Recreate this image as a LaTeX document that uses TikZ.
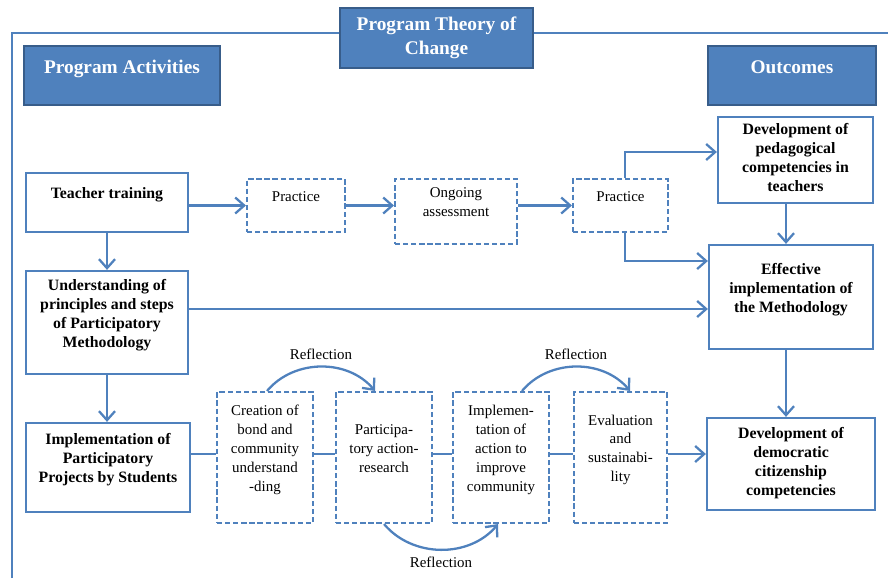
\documentclass[tikz,border=0pt]{standalone}
\usepackage{fontspec}
\setmainfont{Liberation Serif}
\usetikzlibrary{arrows.meta}
\definecolor{tocblue}{HTML}{4F81BD}
\definecolor{tocdark}{HTML}{385D8A}

\begin{document}
\begin{tikzpicture}[x=0.02cm,y=-0.02cm,
  head/.style={draw=tocdark,line width=1pt,fill=tocblue,text=white,align=center,font=\fontsize{11}{14}\selectfont\bfseries},
  box/.style={draw=tocblue,line width=1.3pt,fill=white,align=center,text depth=10.5pt,font=\fontsize{9}{10.8}\selectfont\bfseries},
  dbox/.style={box,line width=1.2pt,dash pattern=on 3pt off 1.6pt,font=\fontsize{8.5}{10.8}\selectfont},
  link/.style={draw=tocblue,line width=1.3pt},
  arr/.style={link,-{Straight Barb[length=1.8mm,width=3.2mm]}},
  lbl/.style={font=\fontsize{8.5}{10}\selectfont}]
  \useasboundingbox (0,0) rectangle (888,578);
  \draw[link] (12,578) -- (12,33) -- (888,33);
  \node[head,minimum width=3.86cm,minimum height=1.2cm] (title) at (436.5,38) {Program Theory of\\Change};
  \node[head,minimum width=3.92cm,minimum height=1.18cm,text depth=10pt] (acts) at (122,75.5) {Program Activities};
  \node[head,minimum width=3.36cm,minimum height=1.18cm,text depth=10pt] (outc) at (792,75.5) {Outcomes};
  \node[box,minimum width=3.24cm,minimum height=1.18cm] (train) at (107,202.5) {Teacher training};
  \node[dbox,minimum width=1.96cm,minimum height=1.06cm] (prac1) at (296,205.5) {Practice};
  \node[dbox,minimum width=2.44cm,minimum height=1.3cm] (assess) at (456,211.5) {Ongoing\\assessment};
  \node[dbox,minimum width=1.9cm,minimum height=1.06cm] (prac2) at (620.5,205.5) {Practice};
  \node[box,minimum width=3.1cm,minimum height=1.72cm,text depth=2.5pt] (pedag) at (795.5,160) {Development of\\pedagogical\\competencies in\\teachers};
  \node[box,minimum width=3.28cm,minimum height=2.08cm] (effect) at (791,297) {Effective\\implementation of\\the Methodology};
  \node[box,minimum width=3.24cm,minimum height=2.06cm] (underst) at (107,322.5) {Understanding of\\principles and steps\\of Participatory\\Methodology};
  \node[box,minimum width=3.28cm,minimum height=1.78cm] (projects) at (108,467.5) {Implementation of\\Participatory\\Projects by Students};
  \node[dbox,minimum width=1.92cm,minimum height=2.62cm] (bond) at (265,457.5) {Creation of\\bond and\\community\\understand\\-ding};
  \node[dbox,minimum width=1.92cm,minimum height=2.62cm] (par) at (384,457.5) {Participa-\\tory action-\\research};
  \node[dbox,minimum width=1.92cm,minimum height=2.62cm] (action) at (501,457.5) {Implemen-\\tation of\\action to\\improve\\community};
  \node[dbox,minimum width=1.86cm,minimum height=2.62cm] (evalu) at (620.5,457.5) {Evaluation\\and\\sustainabi-\\lity};
  \node[box,minimum width=3.36cm,minimum height=1.84cm,text depth=2.5pt] (democ) at (791,464) {Development of\\democratic\\citizenship\\competencies};
  \draw[arr] (train.east |- prac1) -- (prac1.west);
  \draw[arr] (prac1.east) -- (prac1.east -| assess.west);
  \draw[arr] (prac2.west -| assess.east) -- (prac2.west);
  \draw[arr] ([xshift=0.09cm]prac2.north) |- ([yshift=0.16cm]pedag.west);
  \draw[arr] ([xshift=0.09cm]prac2.south) |- ([yshift=0.72cm]effect.west);
  \draw[arr] ([xshift=-0.1cm]effect.north |- pedag.south) -- ([xshift=-0.1cm]effect.north);
  \draw[arr] ([yshift=0.27cm]underst.east) -- ([yshift=0.27cm]underst.east -| effect.west);
  \draw[arr] (train.south) -- (train.south |- underst.north);
  \draw[arr] (underst.south) -- (underst.south |- projects.north);
  \draw[arr] ([xshift=-0.1cm]effect.south) -- ([xshift=-0.1cm]effect.south |- democ.north);
  \draw[link] ([yshift=0.27cm]projects.east) -- ([yshift=0.27cm]projects.east -| bond.west);
  \foreach \a/\b in {bond/par,par/action,action/evalu}
    \draw[link] ([yshift=0.07cm]\a.east) -- ([yshift=0.07cm]\a.east -| \b.west);
  \draw[arr] ([yshift=0.07cm]evalu.east) -- ([yshift=0.07cm]evalu.east -| democ.west);
  \draw[arr] ([xshift=0.04cm]bond.north) to[bend left=50] node[lbl,above] (refl1) {Reflection} ([xshift=-0.18cm]par.north);
  \draw[arr] ([xshift=0.42cm]action.north) to[bend left=50] node[lbl,above] (refl2) {Reflection} ([xshift=0.19cm]evalu.north);
  \draw[arr] (par.south) to[bend right=50] node[lbl,below] (refl3) {Reflection} ([xshift=-0.06cm]action.south);
\end{tikzpicture}
\end{document}
